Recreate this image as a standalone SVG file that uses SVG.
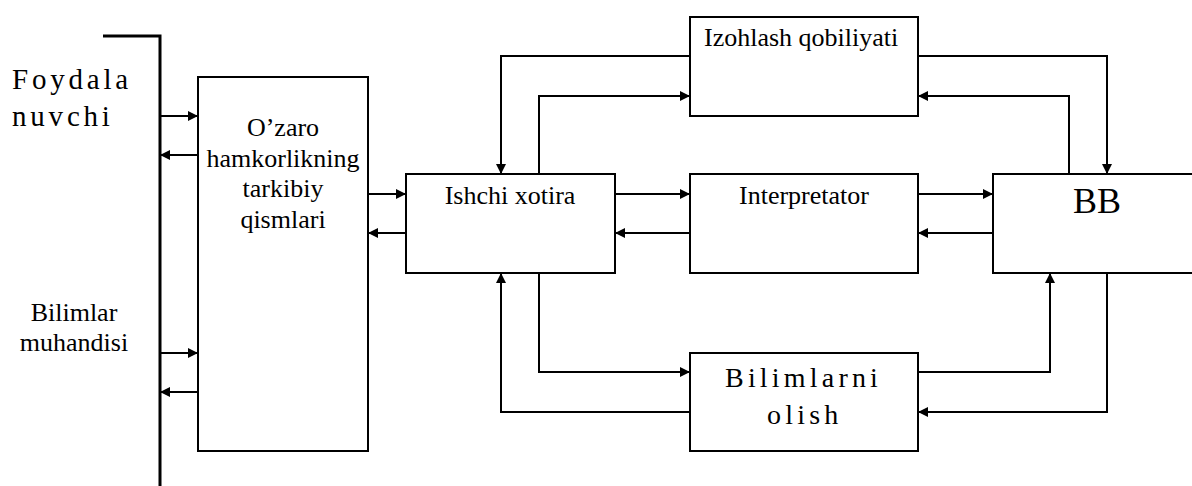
<svg xmlns="http://www.w3.org/2000/svg" width="1192" height="486" viewBox="0 0 1192 486">
  <style>
    .box { fill: #fff; stroke: #000; stroke-width: 2; }
    .bus { fill: none; stroke: #000; stroke-width: 3; }
    .link { fill: none; stroke: #000; stroke-width: 2; marker-end: url(#arrow); }
    .mid { text-anchor: middle; }
  </style>
  <defs>
    <marker id="arrow" viewBox="0 0 10 10" refX="10" refY="5" markerWidth="5" markerHeight="5" orient="auto" markerUnits="strokeWidth">
      <path d="M0,0 L10,5 L0,10 z" fill="#000"/>
    </marker>
  </defs>

  <!-- user / engineer bus -->
  <g id="bus">
    <path class="bus" d="M103,36 H160 V486"/>
  </g>

  <g font-family="'Liberation Serif', 'DejaVu Serif', 'Times New Roman', serif" fill="#000">
    <g id="user">
      <text x="12" y="89" font-size="29" letter-spacing="3.8">Foydala</text>
      <text x="12" y="126" font-size="29" letter-spacing="3.8">nuvchi</text>
    </g>

    <g id="engineer">
      <text class="mid" x="74" y="321" font-size="26">Bilimlar</text>
      <text class="mid" x="74" y="351" font-size="26">muhandisi</text>
    </g>

    <g id="interaction">
      <rect class="box" x="198" y="77" width="170" height="374"/>
      <text class="mid" x="283" y="136" font-size="26">O’zaro</text>
      <text class="mid" x="283" y="167" font-size="26">hamkorlikning</text>
      <text class="mid" x="283" y="197" font-size="26">tarkibiy</text>
      <text class="mid" x="283" y="228" font-size="26">qismlari</text>
    </g>

    <g id="working-memory">
      <rect class="box" x="406" y="174" width="209" height="99"/>
      <text class="mid" x="510" y="204" font-size="26">Ishchi xotira</text>
    </g>

    <g id="explanation">
      <rect class="box" x="690" y="17" width="228" height="99"/>
      <text x="704" y="46" font-size="26">Izohlash qobiliyati</text>
    </g>

    <g id="interpreter">
      <rect class="box" x="690" y="174" width="228" height="99"/>
      <text class="mid" x="804" y="204" font-size="26">Interpretator</text>
    </g>

    <g id="kb">
      <rect class="box" x="993" y="174" width="210" height="99"/>
      <text class="mid" x="1097" y="213" font-size="36">BB</text>
    </g>

    <g id="acquisition">
      <rect class="box" x="690" y="353" width="228" height="98"/>
      <text x="725" y="387" font-size="28" letter-spacing="4.2">Bilimlarni</text>
      <text x="767" y="424" font-size="28" letter-spacing="4.2">olish</text>
    </g>
  </g>

  <g id="connectors">
    <!-- bus <-> interaction block -->
    <path class="link" d="M160,116 H198"/>
    <path class="link" d="M198,155 H160"/>
    <path class="link" d="M160,353 H198"/>
    <path class="link" d="M198,392 H160"/>
    <!-- interaction block <-> working memory -->
    <path class="link" d="M368,194 H406"/>
    <path class="link" d="M406,233 H368"/>
    <!-- working memory <-> interpreter -->
    <path class="link" d="M615,194 H690"/>
    <path class="link" d="M690,233 H615"/>
    <!-- interpreter <-> knowledge base -->
    <path class="link" d="M918,194 H993"/>
    <path class="link" d="M993,233 H918"/>
    <!-- explanation loop -->
    <path class="link" d="M690,56 H501 V174"/>
    <path class="link" d="M539,174 V96 H690"/>
    <path class="link" d="M918,56 H1107 V174"/>
    <path class="link" d="M1069,174 V96 H918"/>
    <!-- acquisition loop -->
    <path class="link" d="M539,273 V372 H690"/>
    <path class="link" d="M690,412 H501 V273"/>
    <path class="link" d="M918,372 H1050 V273"/>
    <path class="link" d="M1107,273 V412 H918"/>
  </g>
</svg>
